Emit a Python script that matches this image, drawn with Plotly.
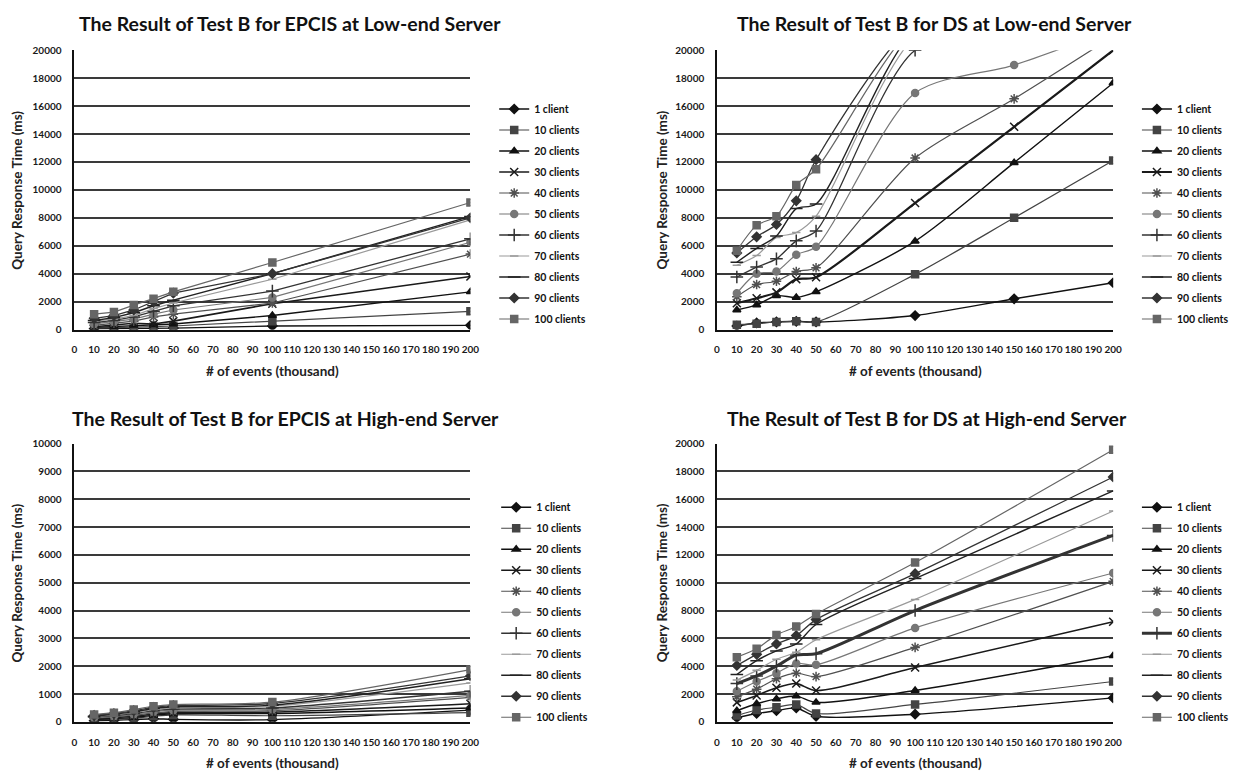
import plotly.graph_objects as go

# ---------------- data ----------------
series_names = ["1 client", "10 clients", "20 clients", "30 clients", "40 clients",
                "50 clients", "60 clients", "70 clients", "80 clients", "90 clients",
                "100 clients"]

x_epcis_low = [10, 20, 30, 40, 50, 100, 200]
x_ds_low = [10, 20, 30, 40, 50, 100, 150, 200]
x_epcis_high = [10, 20, 30, 40, 50, 100, 200]
x_ds_high = [10, 20, 30, 40, 50, 100, 200]

x_ticks = list(range(0, 201, 10))

# Test B, EPCIS, low-end server (ms)
epcis_low = [
    [50, 60, 70, 80, 100, 250, 300],
    [100, 120, 150, 200, 250, 600, 1300],
    [150, 200, 300, 350, 400, 1000, 2700],
    [200, 300, 450, 400, 600, 1850, 3800],
    [300, 450, 600, 900, 1100, 1900, 5400],
    [400, 550, 750, 1100, 1400, 2300, 6250],
    [500, 650, 900, 1300, 1700, 2750, 6500],
    [600, 750, 1000, 1500, 1900, 3600, 7850],
    [650, 850, 1200, 1700, 2100, 4000, 8100],
    [800, 1000, 1400, 2000, 2600, 4000, 8000],
    [1100, 1250, 1750, 2200, 2700, 4800, 9100],
]

# Test B, DS, low-end server (ms)
ds_low = [
    [250, 470, 540, 590, 540, 1000, 2200, 3350],
    [350, 420, 540, 590, 540, 3950, 8000, 12100],
    [1400, 1760, 2420, 2300, 2700, 6330, 11950, 17650],
    [1880, 2240, 2660, 3600, 3740, 9060, 14520, 20000],
    [2350, 3220, 3460, 4160, 4420, 12280, 16520, 21000],
    [2590, 4000, 4160, 5360, 5930, 16940, 18940, 21500],
    [3760, 4470, 5060, 6350, 7060, 20000, 21500, 23500],
    [4600, 5300, 6590, 6940, 8120, 21000, 24000, 26000],
    [4820, 5810, 6700, 8660, 8990, 21500, 24500, 26500],
    [5480, 6640, 7530, 9220, 12160, 22000, 25000, 27000],
    [5650, 7460, 8120, 10350, 11480, 21800, 25000, 27000],
]

# Test B, EPCIS, high-end server (ms)
epcis_high = [
    [40, 60, 80, 110, 90, 80, 420],
    [70, 100, 130, 200, 250, 220, 330],
    [90, 120, 160, 240, 290, 300, 500],
    [110, 150, 200, 280, 330, 350, 650],
    [130, 180, 240, 320, 380, 400, 880],
    [150, 200, 270, 360, 420, 450, 950],
    [170, 230, 300, 400, 460, 500, 1100],
    [190, 260, 330, 440, 500, 560, 1400],
    [200, 280, 360, 480, 540, 600, 1550],
    [230, 300, 400, 520, 580, 660, 1650],
    [260, 330, 440, 560, 620, 710, 1880],
]

# Test B, DS, high-end server (ms)
ds_high = [
    [300, 600, 800, 1000, 400, 550, 1720],
    [450, 850, 1050, 1250, 600, 1250, 2900],
    [800, 1300, 1650, 1850, 1400, 2250, 4750],
    [1400, 1900, 2450, 2750, 2250, 3900, 7200],
    [1800, 2350, 3100, 3500, 3250, 5350, 10100],
    [2200, 2900, 3500, 4200, 4100, 6750, 10700],
    [2750, 3300, 4000, 4800, 4900, 8000, 13400],
    [3000, 3700, 4500, 5000, 5900, 8800, 15150],
    [3400, 4400, 5100, 5600, 7000, 10300, 16600],
    [4050, 4850, 5600, 6200, 7350, 10650, 17600],
    [4650, 5250, 6250, 6850, 7750, 11450, 19550],
]

titles = ["The Result of Test B for EPCIS at Low-end Server",
          "The Result of Test B for DS at Low-end Server",
          "The Result of Test B for EPCIS at High-end Server",
          "The Result of Test B for DS at High-end Server"]
x_title = "# of events (thousand)"
y_title = "Query Response Time (ms)"

# ---------------- styles ----------------
W, H = 1241, 778
FONT = "Lato"
colors = ["#111111", "#444444", "#111111", "#1a1a1a", "#505050", "#777777",
          "#333333", "#9a9a9a", "#222222", "#333333", "#666666"]
symbols = ["diamond", "square", "triangle-up", "x-thin-open", "asterisk-open", "circle",
           "cross-thin-open", "line-ew-open", "line-ew-open", "diamond", "square"]
msizes = [7, 7, 7, 8, 8, 7, 9, 6, 9, 7, 7]
widths = [1.4, 1.2, 1.4, 1.6, 1.2, 1.2, 1.3, 1.2, 1.4, 1.3, 1.2]


def px_x(v):
    return v / W


def px_y(v):
    return 1 - v / H


panels = [
    dict(x=x_epcis_low, data=epcis_low, xd=(72, 472), yd=(44, 328), ymax=20000, dy=2000,
         shape="linear", legend=(496, 89), title=(290, 17), ytitle_x=14, wide={}),
    dict(x=x_ds_low, data=ds_low, xd=(721, 1121), yd=(44, 328), ymax=20000, dy=2000,
         shape="spline", legend=(1145, 89), title=(941, 17), ytitle_x=665, wide={3: 2.2}),
    dict(x=x_epcis_high, data=epcis_high, xd=(72, 472), yd=(444, 727), ymax=10000, dy=1000,
         shape="spline", legend=(498, 494), title=(285, 418), ytitle_x=14, wide={}),
    dict(x=x_ds_high, data=ds_high, xd=(721, 1121), yd=(444, 727), ymax=20000, dy=2000,
         shape="spline", legend=(1145, 494), title=(933, 418), ytitle_x=665, wide={6: 3.0}),
]

fig = go.Figure()
layout = dict(width=W, height=H, margin=dict(l=0, r=0, t=0, b=0),
              paper_bgcolor="white", plot_bgcolor="white", showlegend=True,
              annotations=[])

for i, p in enumerate(panels):
    k = "" if i == 0 else str(i + 1)
    for s, name in enumerate(series_names):
        c = colors[s]
        fig.add_trace(go.Scatter(
            x=p["x"], y=p["data"][s], name=name, mode="lines+markers",
            xaxis="x" + k, yaxis="y" + k, legend="legend" + k,
            legendgroup=f"p{i}s{s}",
            line=dict(color=c, width=p["wide"].get(s, widths[s]), shape=p["shape"],
                      smoothing=0.8),
            marker=dict(symbol=symbols[s], size=msizes[s], color=c,
                        line=dict(color=c, width=1.5)),
        ))
    layout["xaxis" + k] = dict(
        domain=[px_x(p["xd"][0]), px_x(p["xd"][1])], anchor="y" + k,
        range=[0, 200], tickmode="array", tickvals=x_ticks,
        ticktext=[str(t) for t in x_ticks], tickangle=0,
        showgrid=False, zeroline=False, showline=True, linecolor="#111", linewidth=1.5,
        ticks="", ticklabelstandoff=10,
        tickfont=dict(family=FONT, size=10, color="#1a1a1a", weight="bold"))
    layout["yaxis" + k] = dict(
        domain=[px_y(p["yd"][1]), px_y(p["yd"][0])], anchor="x" + k,
        range=[0, p["ymax"]], dtick=p["dy"], tick0=0, tickformat="d",
        showgrid=True, gridcolor="#3a3a3a", gridwidth=1.7, zeroline=False,
        showline=True, linecolor="#111", linewidth=1.5, ticks="", ticklabelstandoff=9,
        tickfont=dict(family=FONT, size=10, color="#1a1a1a", weight="bold"))
    layout["legend" + k] = dict(
        x=px_x(p["legend"][0]), y=px_y(p["legend"][1]), xanchor="left", yanchor="top",
        bgcolor="rgba(0,0,0,0)", borderwidth=0, tracegroupgap=2,
        font=dict(family=FONT, size=10.5, color="#111", weight="bold"))
    # chart title
    layout["annotations"].append(dict(
        text=titles[i], x=px_x(p["title"][0]), y=px_y(p["title"][1]),
        xref="paper", yref="paper", xanchor="center", yanchor="middle", showarrow=False,
        font=dict(family=FONT, size=19.5, color="#111", weight="bold")))
    # x-axis title
    layout["annotations"].append(dict(
        text=x_title, x=px_x((p["xd"][0] + p["xd"][1]) / 2), y=px_y(p["yd"][1] + 42),
        xref="paper", yref="paper", xanchor="center", yanchor="middle", showarrow=False,
        font=dict(family=FONT, size=13.5, color="#222", weight="bold")))
    # y-axis title
    layout["annotations"].append(dict(
        text=y_title, x=px_x(p["ytitle_x"]), y=px_y((p["yd"][0] + p["yd"][1]) / 2),
        xref="paper", yref="paper", xanchor="center", yanchor="middle", showarrow=False,
        textangle=-90,
        font=dict(family=FONT, size=13.5, color="#222", weight="bold")))

fig.update_layout(**layout)
fig.write_html("out.html")
